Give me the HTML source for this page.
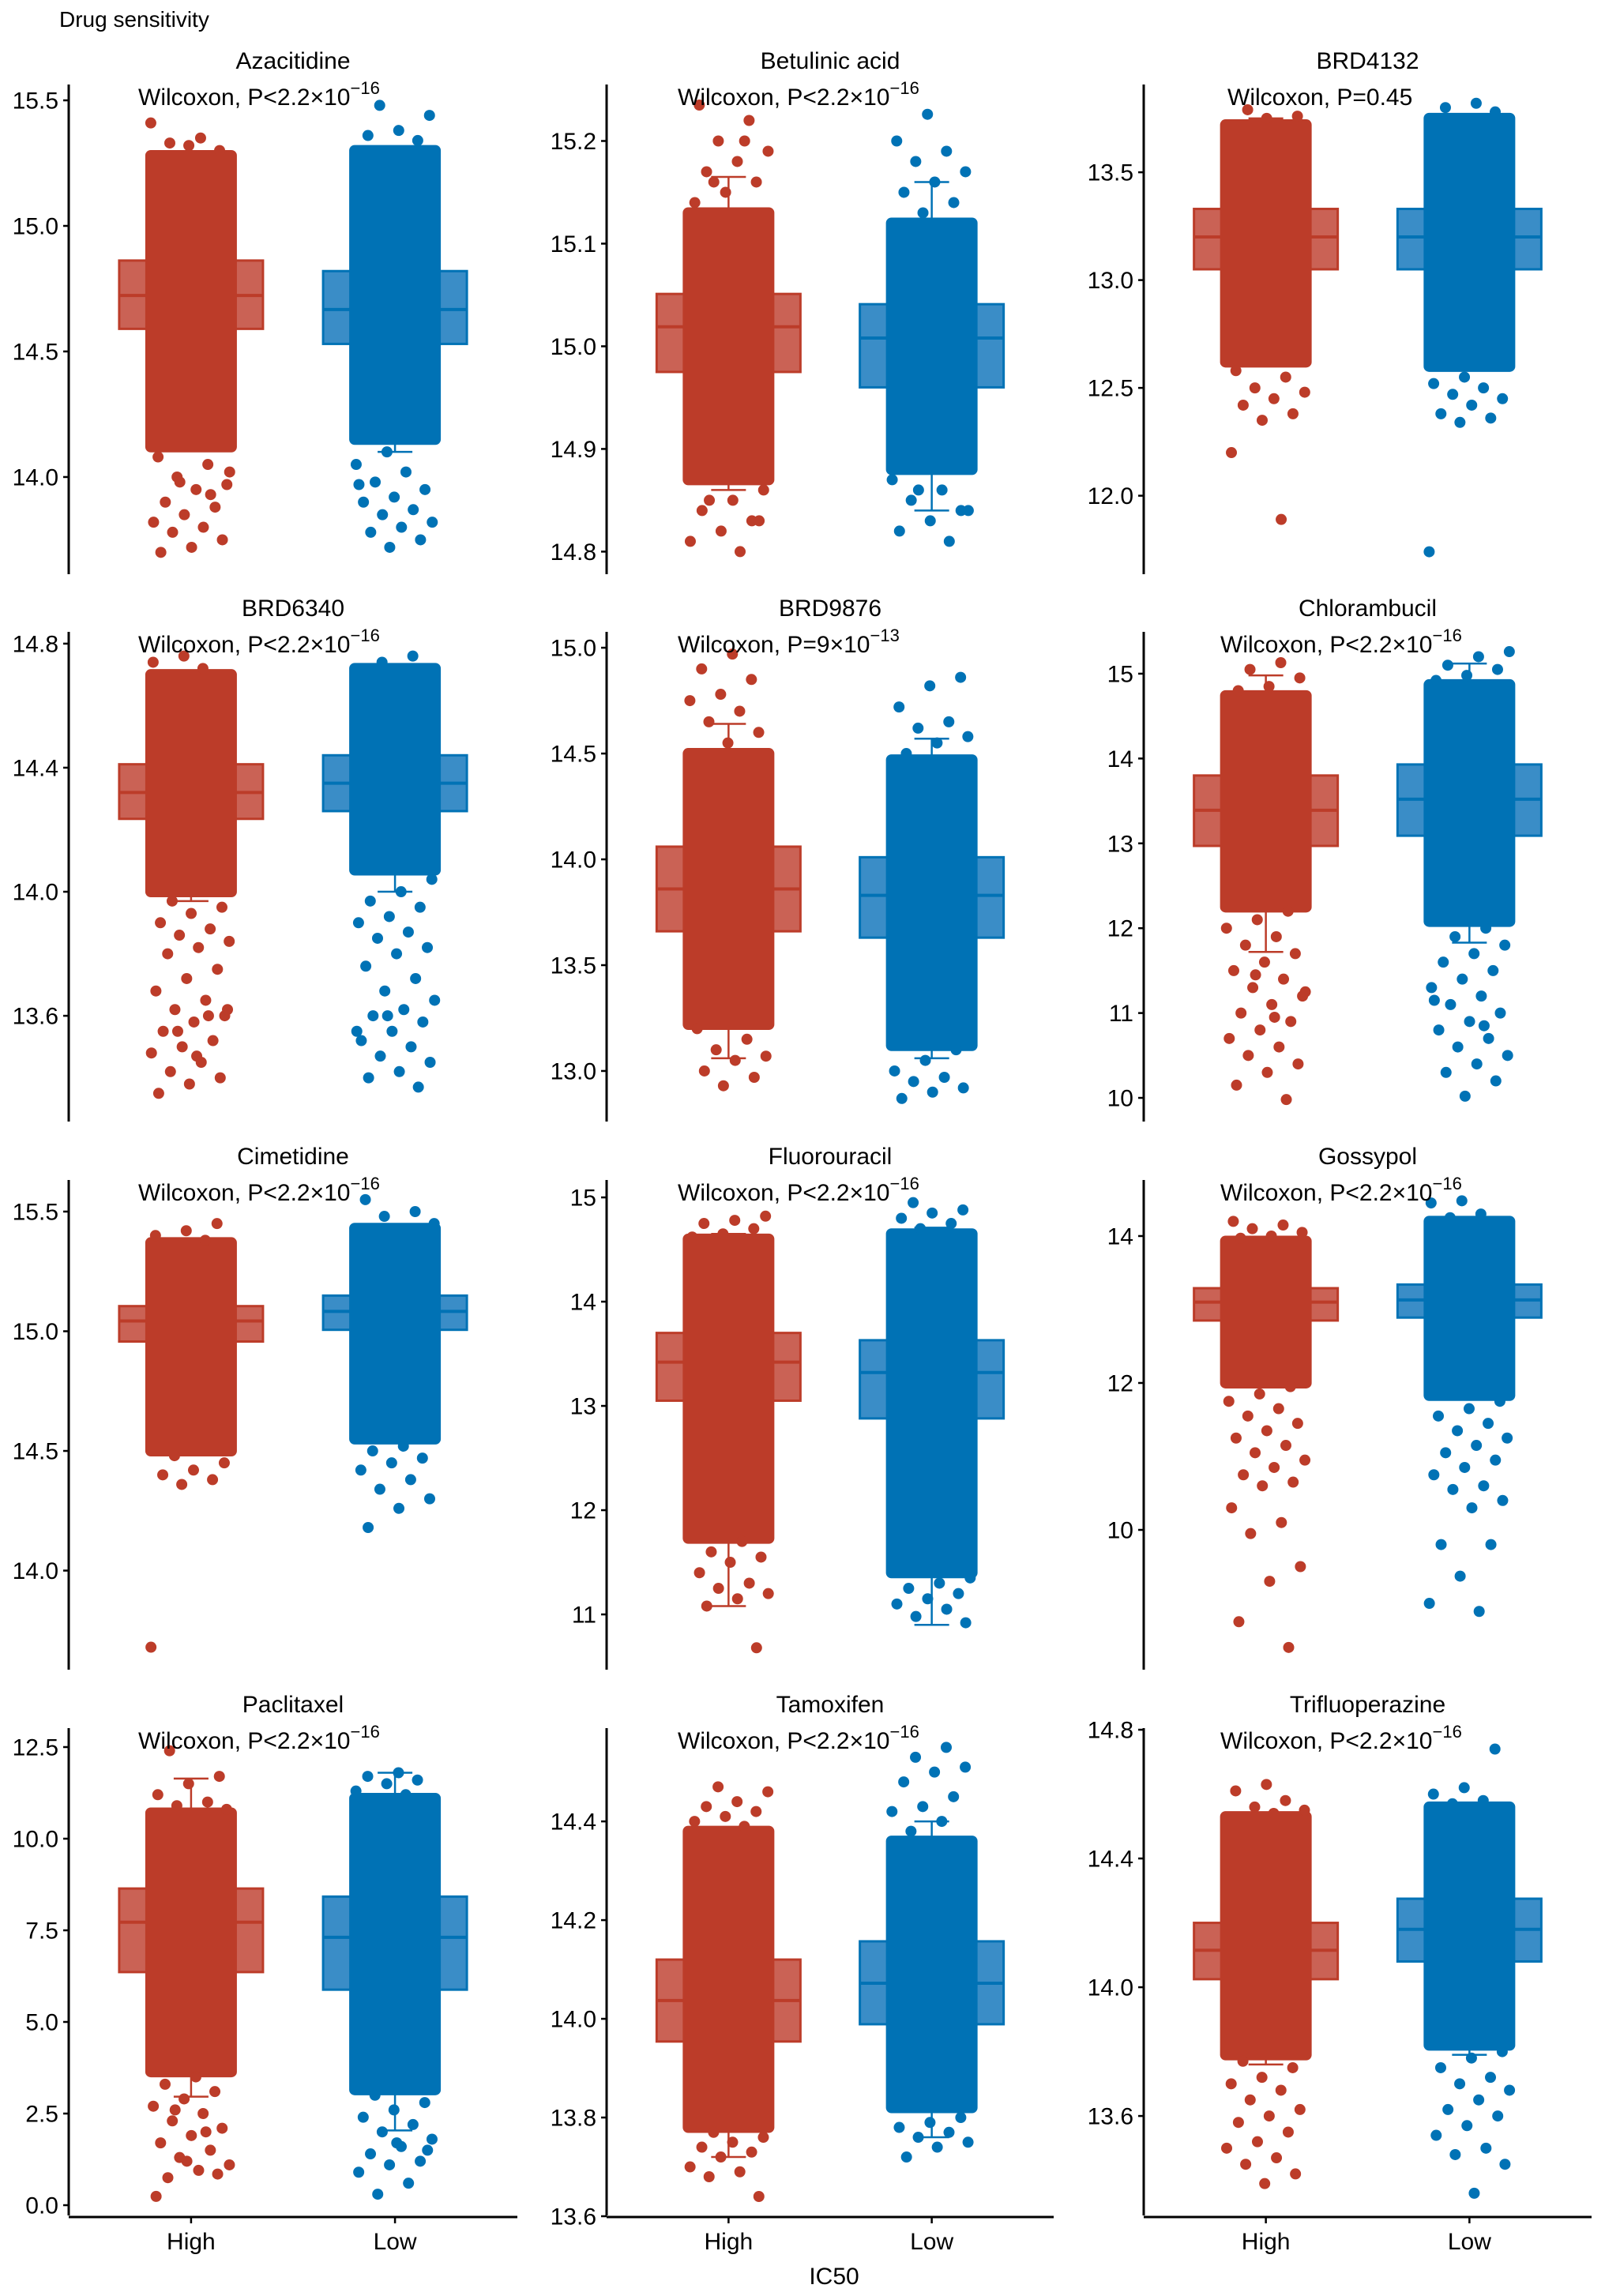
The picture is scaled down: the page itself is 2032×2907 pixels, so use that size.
<!DOCTYPE html>
<html><head><meta charset="utf-8"><title>Drug sensitivity</title>
<style>html,body{margin:0;padding:0;background:#fff}svg{display:block}text{font-family:"Liberation Sans",Arial,sans-serif;fill:#000}</style>
</head><body>
<svg id="chart" width="2032" height="2907" viewBox="0 0 2032 2907" xmlns="http://www.w3.org/2000/svg">
<text x="75" y="34" font-size="28">Drug sensitivity</text>
<text x="1056" y="2892" font-size="30" text-anchor="middle">IC50</text>
</svg>
<script>
const drugs = ["Azacitidine","Betulinic acid","BRD4132","BRD6340","BRD9876","Chlorambucil","Cimetidine","Fluorouracil","Gossypol","Paclitaxel","Tamoxifen","Trifluoperazine"];
const pLabels = ["P<2.2×10","P<2.2×10","P=0.45","P<2.2×10","P=9×10","P<2.2×10","P<2.2×10","P<2.2×10","P<2.2×10","P<2.2×10","P<2.2×10","P<2.2×10"];
const pExps = ["−16","−16","","−16","−13","−16","−16","−16","−16","−16","−16","−16"];
const categories = ["High","Low"];
const yTicks = [[14.0,14.5,15.0,15.5],[14.8,14.9,15.0,15.1,15.2],[12.0,12.5,13.0,13.5],[13.6,14.0,14.4,14.8],[13.0,13.5,14.0,14.5,15.0],[10,11,12,13,14,15],[14.0,14.5,15.0,15.5],[11,12,13,14,15],[10,12,14],[0.0,2.5,5.0,7.5,10.0,12.5],[13.6,13.8,14.0,14.2,14.4],[13.6,14.0,14.4,14.8]];
const tickDecimals = [1,1,1,1,1,0,1,0,0,1,1,1];
const yMin = [13.613,14.778,11.636,13.259,12.761,9.721,13.586,10.47,8.097,-0.28,13.6016,13.291];
const yMax = [15.563,15.255,13.907,14.838,15.075,15.493,15.632,15.167,14.763,13.017,14.589,14.805];
const q1 = [[14.59,14.53],[14.975,14.960],[13.05,13.05],[14.235,14.26],[13.66,13.63],[12.97,13.09],[14.957,15.006],[13.05,12.88],[12.85,12.89],[6.36,5.88],[13.954,13.989],[14.025,14.08]];
const med = [[14.723,14.667],[15.019,15.008],[13.20,13.20],[14.32,14.35],[13.86,13.83],[13.39,13.52],[15.043,15.083],[13.42,13.32],[13.10,13.13],[7.72,7.31],[14.037,14.072],[14.115,14.18]];
const q3 = [[14.862,14.82],[15.051,15.041],[13.33,13.33],[14.411,14.44],[14.06,14.01],[13.80,13.93],[15.105,15.149],[13.70,13.63],[13.29,13.34],[8.64,8.42],[14.12,14.157],[14.2,14.275]];
const whiskLo = [[14.19,14.10],[14.86,14.84],[12.63,12.63],[13.97,14.0],[13.06,13.06],[11.72,11.83],[14.73,14.79],[11.08,10.9],[12.19,12.22],[2.96,2.04],[13.72,13.76],[13.76,13.79]];
const whiskHi = [[15.26,15.25],[15.165,15.16],[13.75,13.75],[14.68,14.70],[14.64,14.57],[14.98,15.12],[15.33,15.36],[14.65,14.71],[13.93,14.02],[11.64,11.8],[14.37,14.40],[14.46,14.56]];
const denseRange = [[[14.12,15.28],[14.15,15.30]],[[14.87,15.13],[14.88,15.12]],[[12.62,13.72],[12.60,13.75]],[[14.0,14.70],[14.07,14.72]],[[13.22,14.5],[13.12,14.47]],[[12.25,14.74],[12.08,14.87]],[[14.5,15.37],[14.55,15.43]],[[11.73,14.6],[11.4,14.65]],[[12.0,13.93],[11.83,14.2]],[[3.64,10.7],[3.15,11.1]],[[13.78,14.38],[13.82,14.36]],[[13.79,14.53],[13.82,14.56]]];
const tailHigh = [
 [15.41,15.35,15.33,15.30,15.32,14.08,14.05,14.0,13.97,13.95,13.9,13.88,13.85,13.82,13.8,13.78,13.75,13.72,13.7,13.93,13.98,14.02],
 [15.235,15.22,15.2,15.19,15.18,15.17,15.16,15.15,15.14,15.2,15.16,14.86,14.85,14.84,14.83,14.82,14.81,14.8,14.85,14.83],
 [13.79,13.76,13.75,12.58,12.55,12.5,12.48,12.45,12.42,12.38,12.35,12.2,11.89],
 [14.76,14.74,14.72,13.97,13.95,13.93,13.9,13.88,13.86,13.84,13.82,13.8,13.75,13.72,13.68,13.65,13.62,13.6,13.58,13.55,13.52,13.5,13.48,13.45,13.42,13.4,13.38,13.35,13.6,13.55,13.62,13.47],
 [14.97,14.9,14.85,14.78,14.75,14.7,14.65,14.6,14.55,13.2,13.15,13.1,13.07,13.05,13.0,12.97,12.93],
 [15.13,15.05,14.95,14.85,14.8,12.2,12.1,12.0,11.9,11.8,11.7,11.6,11.5,11.4,11.3,11.2,11.1,11.0,10.9,10.8,10.7,10.6,10.5,10.4,10.3,10.15,9.98,11.45,11.25,10.95],
 [15.45,15.42,15.4,15.38,14.48,14.45,14.42,14.4,14.38,14.36,13.68],
 [14.82,14.78,14.75,14.7,14.65,14.62,11.7,11.6,11.55,11.5,11.4,11.3,11.25,11.2,11.15,11.08,10.68],
 [14.2,14.15,14.1,14.05,14.0,13.97,11.95,11.85,11.75,11.65,11.55,11.45,11.35,11.25,11.15,11.05,10.95,10.85,10.75,10.65,10.6,10.3,10.1,9.95,9.5,9.3,8.75,8.4],
 [12.4,11.7,11.5,11.2,11.0,10.9,10.8,3.5,3.3,3.1,2.9,2.7,2.5,2.3,2.1,1.9,1.7,1.5,1.3,1.1,0.95,0.75,0.85,1.2,0.24,2.0,2.6],
 [14.47,14.46,14.44,14.43,14.42,14.41,14.4,14.39,13.77,13.76,13.75,13.74,13.73,13.72,13.7,13.69,13.68,13.64],
 [14.63,14.61,14.58,14.56,14.55,14.54,13.77,13.75,13.72,13.7,13.68,13.65,13.62,13.6,13.58,13.55,13.52,13.5,13.47,13.45,13.42,13.39]
];
const tailLow = [
 [15.48,15.44,15.38,15.36,15.34,14.1,14.05,14.02,13.98,13.95,13.92,13.9,13.87,13.85,13.82,13.8,13.78,13.75,13.72,13.97],
 [15.226,15.2,15.19,15.18,15.17,15.16,15.15,15.14,15.13,14.87,14.86,14.85,14.84,14.83,14.82,14.81,14.86,14.84],
 [13.82,13.8,13.78,12.55,12.52,12.5,12.47,12.45,12.42,12.38,12.36,12.34,11.74],
 [14.76,14.74,14.04,14.0,13.97,13.95,13.92,13.9,13.87,13.85,13.82,13.8,13.76,13.72,13.68,13.65,13.62,13.6,13.58,13.55,13.52,13.5,13.47,13.45,13.42,13.4,13.37,13.6,13.55],
 [14.86,14.82,14.72,14.65,14.62,14.58,14.55,14.5,13.1,13.05,13.0,12.97,12.95,12.92,12.9,12.87],
 [15.26,15.2,15.1,15.05,14.98,14.92,12.0,11.9,11.8,11.7,11.6,11.5,11.4,11.3,11.2,11.1,11.0,10.9,10.8,10.7,10.6,10.5,10.4,10.3,10.2,10.02,11.15,10.85],
 [15.55,15.5,15.48,15.45,14.52,14.5,14.47,14.45,14.42,14.38,14.34,14.3,14.26,14.18],
 [14.95,14.88,14.85,14.8,14.75,14.7,11.35,11.3,11.25,11.2,11.15,11.1,11.05,10.98,10.92],
 [14.48,14.45,14.3,14.25,11.75,11.65,11.55,11.45,11.35,11.25,11.15,11.05,10.95,10.85,10.75,10.6,10.55,10.4,10.3,9.8,9.8,9.37,9.0,8.89],
 [11.8,11.7,11.6,11.5,11.3,11.2,3.0,2.8,2.6,2.4,2.2,2.0,1.8,1.6,1.4,1.2,1.1,0.9,0.6,0.3,1.5,1.7],
 [14.55,14.53,14.51,14.5,14.48,14.45,14.43,14.42,14.4,14.38,13.8,13.79,13.78,13.77,13.76,13.75,13.74,13.72],
 [14.74,14.62,14.6,14.58,14.57,13.8,13.78,13.75,13.72,13.7,13.68,13.65,13.62,13.6,13.57,13.54,13.5,13.48,13.45,13.36]
];

const svg = document.getElementById('chart');
const NS = 'http://www.w3.org/2000/svg';
const colAxisX = [87, 768, 1448];
const colRight = [655, 1334, 2015];
const rowTop = [107, 800, 1494, 2188];
const rowBottom = [727, 1420, 2114, 2805];
const wilcoxX = [175, 858, 1545];
const ptColor = ['#BC3C29', '#0072B5'];
const boxFill = ['#CA6255', '#3A8DC7'];
const R = 7, JIT = 51, BOXHW = 91;

function mk(tag, attrs, parent) {
  const e = document.createElementNS(NS, tag);
  for (const k in attrs) e.setAttribute(k, attrs[k]);
  (parent || svg).appendChild(e);
  return e;
}

for (let p = 0; p < drugs.length; p++) {
  const col = p % 3, row = Math.floor(p / 3);
  const ax = colAxisX[col], rx = colRight[col];
  const top = rowTop[row], bot = rowBottom[row];
  const w = rx - ax;
  const g = mk('g', {});
  
  
  const y = v => bot - (v - yMin[p]) / (yMax[p] - yMin[p]) * (bot - top);
  const xc = i => ax + w * (0.6 + i) / 2.2;

  const t = mk('text', {x: (ax + rx) / 2, y: top - 20, 'font-size': 30, 'text-anchor': 'middle'}, g);
  t.textContent = drugs[p];
  
  

  const axl = mk('line', {x1: ax, x2: ax, y1: top, y2: bot, stroke: '#000', 'stroke-width': 3}, g);
  
  
  yTicks[p].forEach(v => {
    const yy = y(v);
    const tk = mk('line', {x1: ax - 7, x2: ax, y1: yy, y2: yy, stroke: '#000', 'stroke-width': 2.5}, g);
    
    
    const tl = mk('text', {x: ax - 13, y: yy + 10.5, 'font-size': 30, 'text-anchor': 'end'}, g);
    tl.textContent = v.toFixed(tickDecimals[p]);
    
    
  });

  for (let c = 0; c < 2; c++) {
    const cx = xc(c);
    const wl = mk('line', {x1: cx, x2: cx, y1: y(whiskHi[p][c]), y2: y(whiskLo[p][c]), stroke: ptColor[c], 'stroke-width': 2.5}, g);
    
    
    [whiskHi[p][c], whiskLo[p][c]].forEach(v => {
      const cap = mk('line', {x1: cx - 22, x2: cx + 22, y1: y(v), y2: y(v), stroke: ptColor[c], 'stroke-width': 2.5}, g);
      
      
    });
    const by1 = y(q3[p][c]), by2 = y(q1[p][c]);
    const box = mk('rect', {x: cx - BOXHW, y: by1, width: BOXHW * 2, height: by2 - by1, fill: boxFill[c], stroke: ptColor[c], 'stroke-width': 3}, g);
    
    
    const ml = mk('line', {x1: cx - BOXHW, x2: cx + BOXHW, y1: y(med[p][c]), y2: y(med[p][c]), stroke: ptColor[c], 'stroke-width': 4}, g);
    
    
    const dy1 = y(denseRange[p][c][1]) - R, dy2 = y(denseRange[p][c][0]) + R;
    const dc = mk('rect', {x: cx - JIT - R, y: dy1, width: (JIT + R) * 2, height: dy2 - dy1, rx: R, fill: ptColor[c]}, g);
    
    
    const tails = c === 0 ? tailHigh[p] : tailLow[p];
    tails.forEach((v, i) => {
      const f = ((i * 0.618034 + p * 0.137 + c * 0.31) % 1) - 0.5;
      const pt = mk('circle', {cx: cx + f * 2 * JIT, cy: y(v), r: R, fill: ptColor[c]}, g);
      
      
    });
  }

  const wt = mk('text', {x: (p === 2 ? 1554 : wilcoxX[col]), y: top + 26, 'font-size': 30}, g);
  
  
  wt.textContent = 'Wilcoxon, ' + pLabels[p];
  if (pExps[p]) {
    const sp = mk('tspan', {dy: -14, 'font-size': 22}, wt);
    sp.textContent = pExps[p];
  }

  if (row === 3) {
    const xl = mk('line', {x1: ax, x2: rx, y1: bot + 2, y2: bot + 2, stroke: '#000', 'stroke-width': 3}, g);
    
    
    for (let c = 0; c < 2; c++) {
      const tk = mk('line', {x1: xc(c), x2: xc(c), y1: bot + 2, y2: bot + 10, stroke: '#000', 'stroke-width': 2.5}, g);
      
      
      const tl = mk('text', {x: xc(c), y: bot + 43, 'font-size': 30, 'text-anchor': 'middle'}, g);
      tl.textContent = categories[c];
      
      
    }
  }
}
</script>
</body></html>
